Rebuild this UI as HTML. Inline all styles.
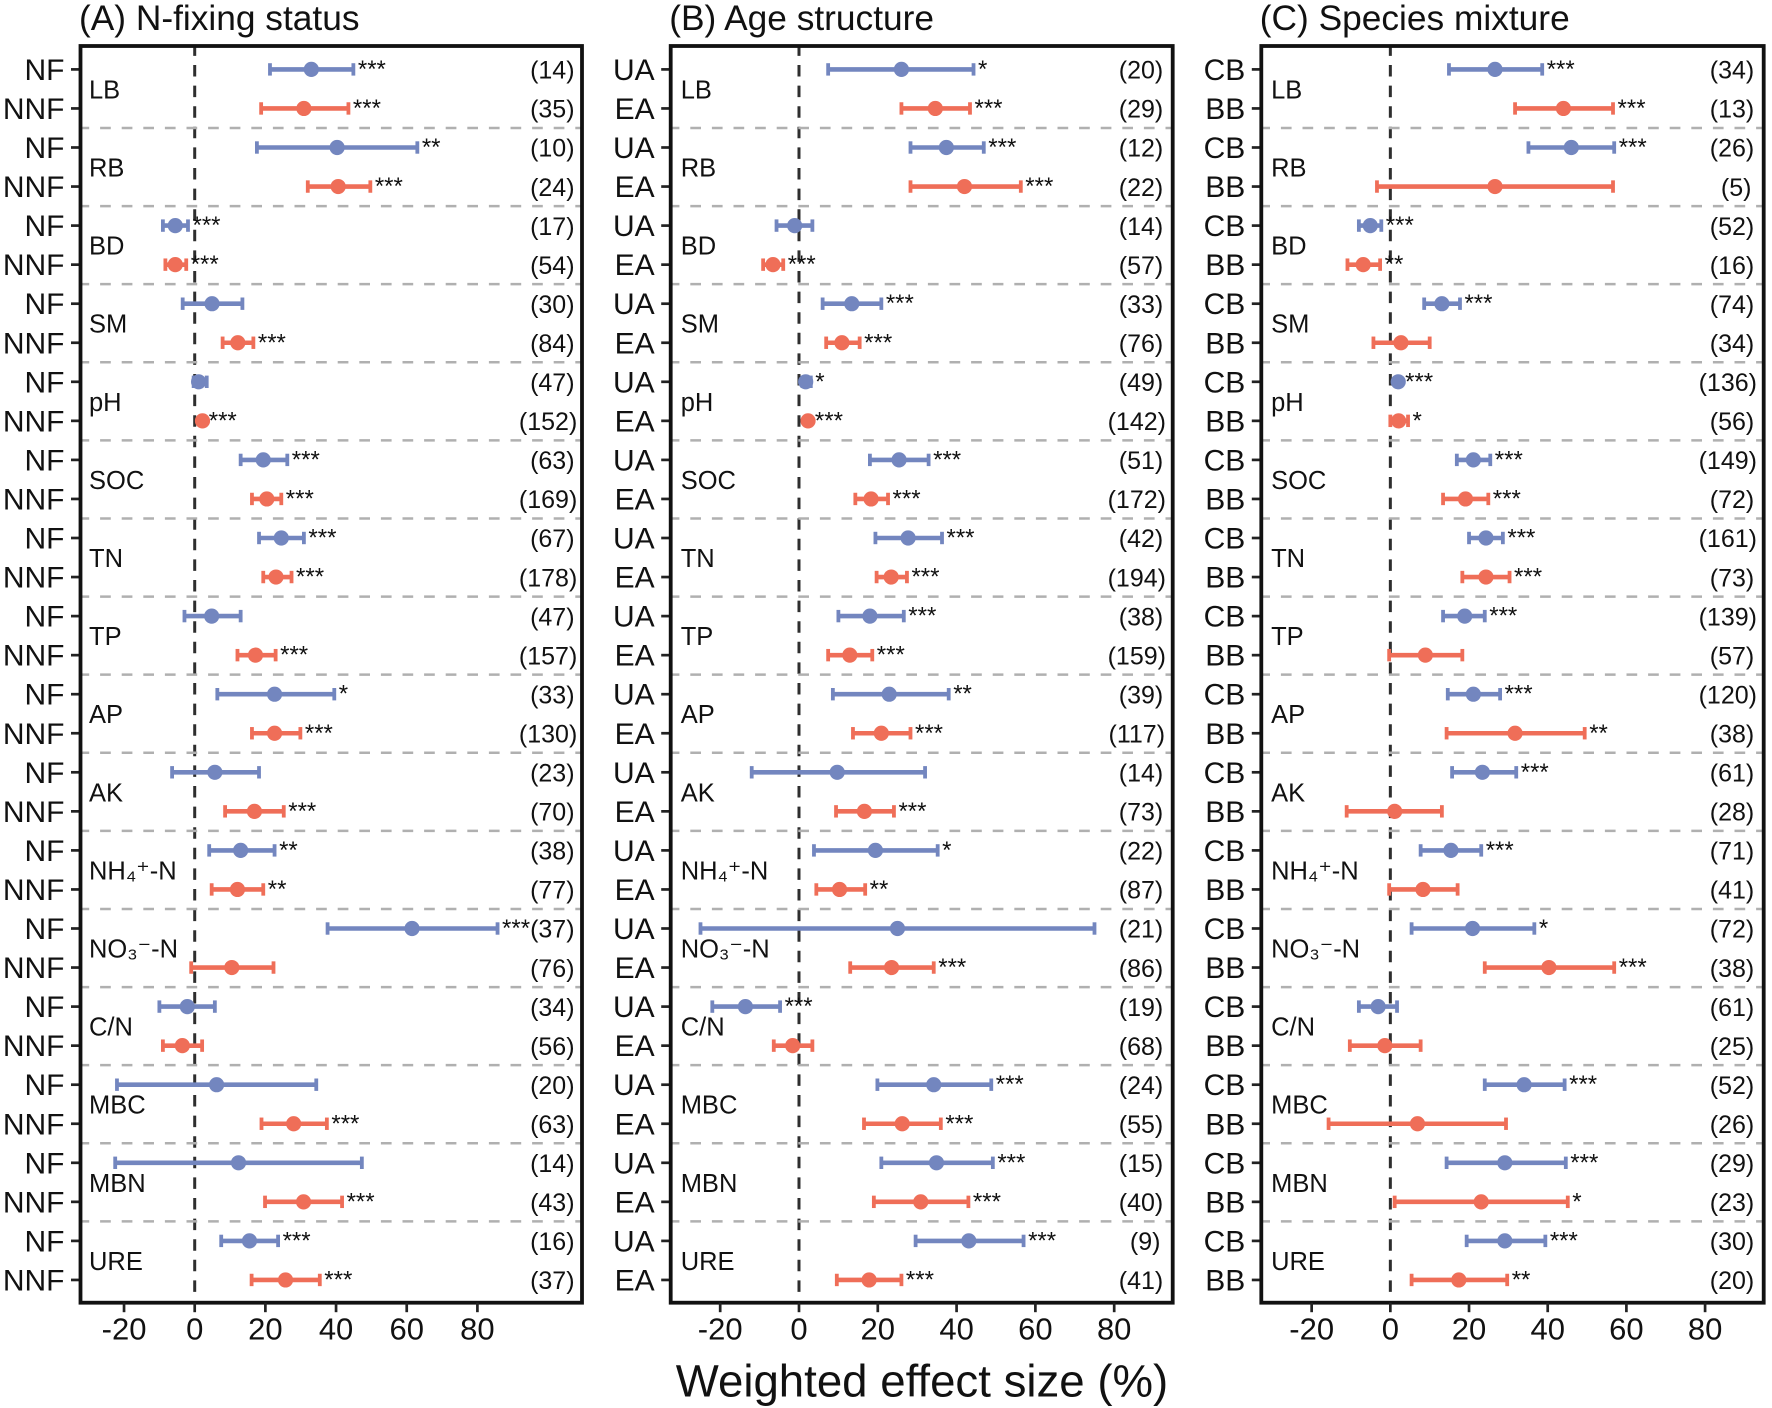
<!DOCTYPE html>
<html lang="en">
<head>
<meta charset="utf-8">
<title>Weighted effect size forest plots</title>
<style>
html,body{margin:0;padding:0;background:#fff;}
svg{display:block;}
text{font-family:"Liberation Sans","DejaVu Sans",sans-serif;fill:#111;}
</style>
</head>
<body>
<svg id="chart" xmlns="http://www.w3.org/2000/svg" width="1772" height="1408" viewBox="0 0 1772 1408">
  <rect x="0" y="0" width="1772" height="1408" fill="#ffffff"/>
  <text x="922" y="1396.5" font-size="45.6" text-anchor="middle">Weighted effect size (%)</text>
</svg>
<script>
const groups = ["LB","RB","BD","SM","pH","SOC","TN","TP","AP","AK","NH₄⁺-N","NO₃⁻-N","C/N","MBC","MBN","URE"];
const xTickLabels = [-20,0,20,40,60,80];

const titleA = "(A) N-fixing status";
const seriesNamesA = ["NF","NNF"];
const meanA = [33,30.9,40.3,40.6,-5.5,-5.5,4.9,12.2,1.1,2.2,19.4,20.4,24.5,23,4.8,17.2,22.6,22.6,5.7,16.9,13,12.1,61.5,10.5,-2.1,-3.5,6.2,28,12.4,30.8,15.5,25.7];
const lowA = [21.3,18.8,17.6,32,-9,-8.3,-3.4,7.9,-0.3,1.7,13,16.2,18.2,19.4,-2.9,12.1,6.4,16.2,-6.4,8.6,4.1,4.8,37.6,-1,-10,-9,-22,18.9,-22.5,19.9,7.5,16.1];
const highA = [44.9,43.5,63,49.7,-1.9,-2.4,13.5,16.6,3.4,2.7,26.2,24.5,30.9,27.4,13,22.9,39.5,29.9,18.2,25.2,22.6,19.4,85.7,22.3,5.7,2.1,34.4,37.4,47.3,41.7,23.6,35.4];
const starsA = ["***","***","**","***","***","***","","***","","***","***","***","***","***","","***","*","***","","***","**","**","***","","","","","***","","***","***","***"];
const countsA = [14,35,10,24,17,54,30,84,47,152,63,169,67,178,47,157,33,130,23,70,38,77,37,76,34,56,20,63,14,43,16,37];

const titleB = "(B) Age structure";
const seriesNamesB = ["UA","EA"];
const meanB = [26,34.6,37.4,42,-1.1,-6.6,13.4,10.9,1.7,2.3,25.4,18.3,27.7,23.4,18,12.9,22.9,20.9,9.7,16.6,19.4,10.3,25,23.5,-13.6,-1.6,34.2,26.2,34.9,30.9,43.1,17.8];
const lowB = [7.4,26,28.3,28.3,-5.7,-9.1,6,6.9,0.9,1.7,18,14.3,19.4,19.7,10,7.4,8.6,13.7,-12,9.4,3.8,4.4,-25,13,-22,-6.4,19.9,16.5,20.9,19,29.6,9.6];
const highB = [44.3,43.4,46.9,56.3,3.4,-4,20.9,15.4,3,2.9,32.9,22.6,36.3,27.4,26.6,18.6,38,28.3,32,24.1,35.2,16.8,75,34.2,-4.8,3.4,48.8,36,49.2,43,57,26];
const starsB = ["*","***","***","***","","***","***","***","*","***","***","***","***","***","***","***","**","***","","***","*","**","","***","***","","***","***","***","***","***","***"];
const countsB = [20,29,12,22,14,57,33,76,49,142,51,172,42,194,38,159,39,117,14,73,22,87,21,86,19,68,24,55,15,40,9,41];

const titleC = "(C) Species mixture";
const seriesNamesC = ["CB","BB"];
const meanC = [26.6,44,46,26.6,-5.1,-6.9,13.1,2.7,2,2.1,21.1,19.1,24.3,24.3,18.9,8.9,21.1,31.7,23.4,1.1,15.4,8.3,20.9,40.3,-3.1,-1.4,34,6.9,29.1,23.1,29.1,17.4];
const lowC = [14.9,31.7,35.1,-3.4,-8,-10.9,8.6,-4.3,1.4,0,16.9,13.4,20,18.3,13.4,-0.3,14.6,14.3,15.7,-11.1,7.7,-0.3,5.4,24,-8,-10.3,24,-15.7,14.3,1.1,19.4,5.4];
const highC = [38.6,56.6,56.9,56.6,-2.3,-2.6,17.7,10,2.6,4.5,25.4,24.9,28.6,30.3,24,18.3,27.9,49.4,32,13.1,23.1,17.1,36.6,56.9,1.7,7.7,44.3,29.4,44.6,45.1,39.4,29.7];
const starsC = ["***","***","***","","***","**","***","","***","*","***","***","***","***","***","","***","**","***","","***","","*","***","","","***","","***","*","***","**"];
const countsC = [34,13,26,5,52,16,74,34,136,56,149,72,161,73,139,57,120,38,61,28,71,41,72,38,61,25,52,26,29,23,30,20];

const NS = "http://www.w3.org/2000/svg";
const svg = document.getElementById("chart");
const COLORS = ["#7386bf", "#ef6e58"];
const TOP = 46, BOTTOM = 1302.7;

function rowY(i){ return 69.4 + 39.05 * i; }
function make(parent, tag, attrs, txt){
  const el = document.createElementNS(NS, tag);
  for (const k in attrs) el.setAttribute(k, attrs[k]);
  if (txt !== undefined) el.textContent = txt;
  parent.appendChild(el);
  return el;
}
function xAxis(panel){
  const k = (panel.right - panel.left) / (panel.domain[1] - panel.domain[0]);
  return v => panel.left + (v - panel.domain[0]) * k;
}

function drawPanel(panel){
  const x = xAxis(panel);
  const key = panel.key;
  const g = make(svg, "g", {});
  
  

  const title = make(g, "text", {x: panel.left - 1.5, y: 30, "font-size": 35.3}, panel.title);
  
  

  const zero = make(g, "line", {x1: x(0), x2: x(0), y1: TOP, y2: BOTTOM, stroke: "#2e2e2e", "stroke-width": 3, "stroke-dasharray": "11.5 9.1", "stroke-dashoffset": 1.6});
  
  

  for (let s = 1; s < groups.length; s++){
    const yy = (rowY(2*s-1) + rowY(2*s)) / 2;
    const sep = make(g, "line", {x1: panel.left, x2: panel.right, y1: yy, y2: yy, stroke: "#b0b0b0", "stroke-width": 2.5, "stroke-dasharray": "10.7 10.9", "stroke-dashoffset": 2});
    
    
  }

  groups.forEach((name, gi) => {
    const yy = (rowY(2*gi) + rowY(2*gi+1)) / 2 + 9.5;
    const lab = make(g, "text", {x: panel.left + panel.labelDx, y: yy, "font-size": 25.5}, name);
    
    
  });

  panel.mean.forEach((m, i) => {
    const y = rowY(i);
    const color = COLORS[i % 2];

    const tick = make(g, "line", {x1: panel.left - 9.5, x2: panel.left, y1: y, y2: y, stroke: "#222", "stroke-width": 2.7});
    
    

    const tl = make(g, "text", {x: panel.left - 16, y: y + 10.5, "font-size": 30, "text-anchor": "end"}, panel.names[i % 2]);
    
    

    const lo = x(panel.low[i]), hi = x(panel.high[i]);
    const bar = make(g, "line", {x1: lo, x2: hi, y1: y, y2: y, stroke: color, "stroke-width": 4.6});
    
    

    const capL = make(g, "line", {x1: lo, x2: lo, y1: y - 6.2, y2: y + 6.2, stroke: color, "stroke-width": 3.8});
    
    

    const capH = make(g, "line", {x1: hi, x2: hi, y1: y - 6.2, y2: y + 6.2, stroke: color, "stroke-width": 3.8});
    
    

    const pt = make(g, "circle", {cx: x(m), cy: y, r: 7.6, fill: color});
    
    

    if (panel.stars[i]){
      const st = make(g, "text", {x: hi + 4.5, y: y + 7.5, "font-size": 24}, panel.stars[i]);
      
      
    }

    const digits = String(panel.counts[i]).length;
    const cnt = make(g, "text", {x: panel.right - panel.countDx + (2 - digits) * 4.2, y: y + 9.2, "font-size": 25, "text-anchor": "middle"}, "(" + panel.counts[i] + ")");
    
    
  });

  const frame = make(g, "rect", {x: panel.left, y: TOP, width: panel.right - panel.left, height: BOTTOM - TOP, fill: "none", stroke: "#111", "stroke-width": 3.8});
  
  

  xTickLabels.forEach(v => {
    const t = make(g, "line", {x1: x(v), x2: x(v), y1: BOTTOM, y2: BOTTOM + 9.5, stroke: "#222", "stroke-width": 2.7});
    
    

    const l = make(g, "text", {x: x(v), y: 1339.3, "font-size": 31, "text-anchor": "middle"}, String(v));
    
    
  });
}

drawPanel({key: "a", title: titleA, names: seriesNamesA, mean: meanA, low: lowA, high: highA, stars: starsA, counts: countsA, left: 80.5, right: 582, domain: [-32.32, 109.6], labelDx: 8.5, countDx: 29.7});
drawPanel({key: "b", title: titleB, names: seriesNamesB, mean: meanB, low: lowB, high: highB, stars: starsB, counts: countsB, left: 670.7, right: 1172.7, domain: [-32.56, 94.85], labelDx: 10, countDx: 31.7});
drawPanel({key: "c", title: titleC, names: seriesNamesC, mean: meanC, low: lowC, high: highC, stars: starsC, counts: countsC, left: 1261.3, right: 1763.7, domain: [-32.8, 94.9], labelDx: 9.8, countDx: 31.7});
</script>
</body>
</html>
